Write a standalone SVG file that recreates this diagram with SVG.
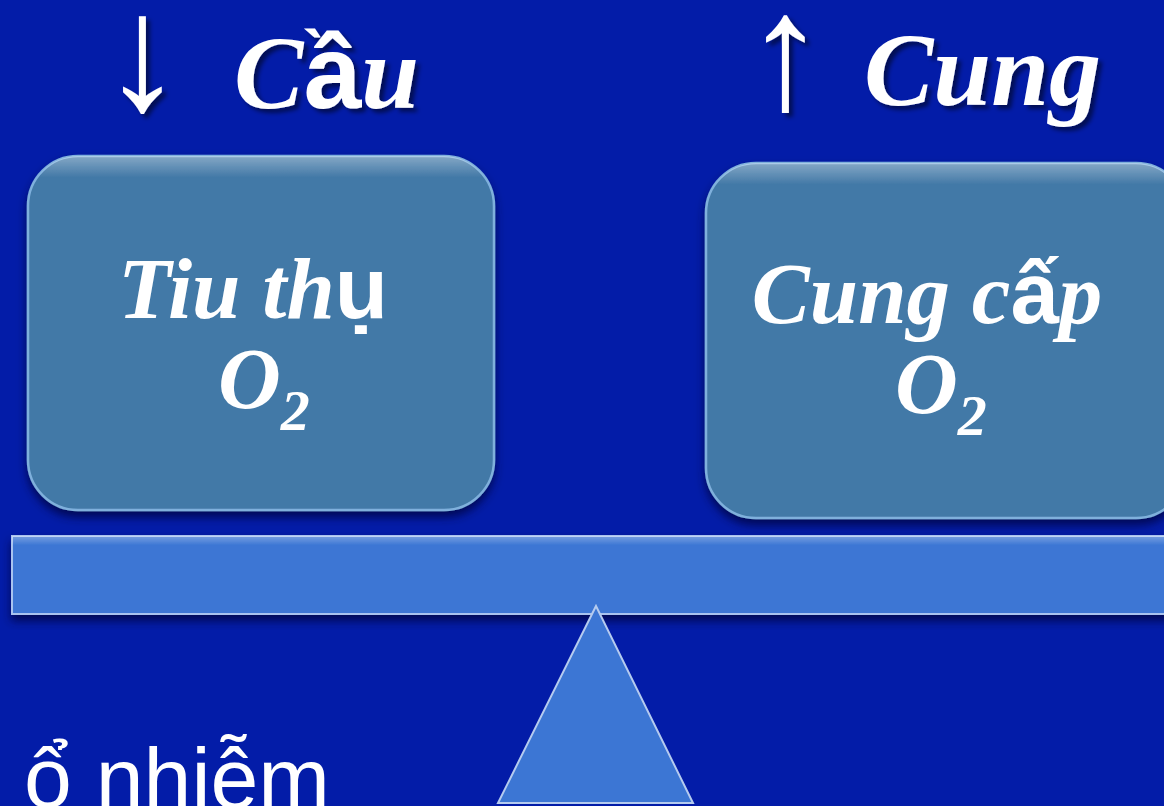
<svg xmlns="http://www.w3.org/2000/svg" width="1164" height="806" viewBox="0 0 1164 806">
<defs>
<style>
.title{font-family:"Liberation Serif",serif;font-weight:bold;font-style:italic;font-size:104px;fill:#fff;}
.arrow{font-family:"Liberation Serif",serif;font-size:165px;fill:#fff;}
.lbl{font-family:"Liberation Serif",serif;font-weight:bold;font-style:italic;font-size:87px;fill:#fff;}
.up{font-family:"Liberation Sans",sans-serif;font-style:normal;}
.box{fill:#4379A7;stroke:#7fb0dc;stroke-width:2.5;}
.plank{fill:#3C76D4;stroke:#a9c3ef;stroke-width:2;}
</style>
<filter id="ts" x="-10%" y="-10%" width="130%" height="130%">
<feDropShadow dx="4" dy="4" stdDeviation="2" flood-color="#000" flood-opacity="0.5"/>
</filter>
<filter id="bs" x="-10%" y="-10%" width="130%" height="130%">
<feDropShadow dx="0" dy="6" stdDeviation="5" flood-color="#000030" flood-opacity="0.7"/>
</filter>
<linearGradient id="gloss" x1="0" y1="0" x2="0" y2="1">
<stop offset="0" stop-color="#fff" stop-opacity="0.35"/>
<stop offset="0.06" stop-color="#fff" stop-opacity="0"/>
</linearGradient>
<linearGradient id="pgloss" x1="0" y1="0" x2="0" y2="1">
<stop offset="0" stop-color="#fff" stop-opacity="0.3"/>
<stop offset="0.12" stop-color="#fff" stop-opacity="0"/>
</linearGradient>
</defs>
<rect width="1164" height="806" fill="#031CA8"/>

<g id="title-demand" filter="url(#ts)">
<text class="arrow" x="101" y="109">↓</text>
<text class="title" x="234" y="108">C<tspan class="up">ầ</tspan>u</text>
</g>
<g id="title-supply" filter="url(#ts)">
<text class="arrow" x="744" y="108">↑</text>
<text class="title" x="864" y="105">Cung</text>
</g>

<g id="node-consume" filter="url(#bs)">
<rect class="box" x="28" y="156" width="466" height="354" rx="50"/>
<rect x="28" y="156" width="466" height="354" rx="50" fill="url(#gloss)"/>
<text class="lbl" x="253" y="318" text-anchor="middle">Tiu th<tspan class="up">ụ</tspan></text>
<text class="lbl" x="218" y="408">O<tspan font-size="58" dy="22">2</tspan></text>
</g>

<g id="node-supply" filter="url(#bs)">
<rect class="box" x="706" y="163" width="480" height="355" rx="50"/>
<rect x="706" y="163" width="480" height="355" rx="50" fill="url(#gloss)"/>
<text class="lbl" x="927" y="323" text-anchor="middle">Cung c<tspan class="up">ấ</tspan>p</text>
<text class="lbl" x="895" y="413">O<tspan font-size="58" dy="22">2</tspan></text>
</g>

<g id="plank" filter="url(#bs)">
<rect class="plank" x="12" y="536" width="1170" height="78"/>
<rect x="12" y="536" width="1170" height="78" fill="url(#pgloss)"/>
</g>
<g id="fulcrum">
<polygon points="596,606 498,803 693,803" fill="#3C76D4" stroke="#b5cbef" stroke-width="2"/>
</g>

<text x="24" y="808" font-family="'Liberation Sans',sans-serif" font-size="86" fill="#fff">ổ nhiễm</text>
</svg>
